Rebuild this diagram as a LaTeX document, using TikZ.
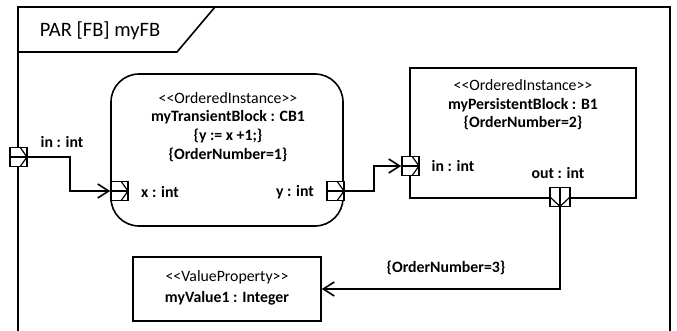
\documentclass[tikz,border=0pt]{standalone}
\usepackage{fontspec}
\setmainfont{Carlito}
\usetikzlibrary{arrows.meta,calc}
\tikzset{
  ln/.style={line width=1.6pt},
  portR/.style={draw, ln, fill=white, inner sep=0pt, minimum width=17pt, minimum height=19pt,
    path picture={
      \draw[line width=1.2pt] ($(path picture bounding box.north west)!0.6!(path picture bounding box.north east)$)
        -- (path picture bounding box.east)
        -- ($(path picture bounding box.south west)!0.6!(path picture bounding box.south east)$);
      \draw[line width=1.2pt] (path picture bounding box.west) -- (path picture bounding box.east);
    }},
  portD/.style={draw, ln, fill=white, inner sep=0pt, minimum width=20pt, minimum height=19pt,
    path picture={
      \draw[line width=1.2pt] ($(path picture bounding box.north west)!0.5!(path picture bounding box.south west)$)
        -- (path picture bounding box.south)
        -- ($(path picture bounding box.north east)!0.5!(path picture bounding box.south east)$);
      \draw[line width=1.2pt] (path picture bounding box.north) -- (path picture bounding box.south);
    }},
  flow/.style={ln, -{Straight Barb[length=11pt,width=14pt,line width=1.6pt]}},
  blk/.style={draw, ln, inner sep=0pt},
  txt/.style={font=\fontsize{15.8}{19}\selectfont, inner sep=0pt},
  btxt/.style={font=\fontsize{15.8}{19}\selectfont\bfseries, inner sep=0pt},
}
\newcommand{\stl}{<\kern0pt<}
\newcommand{\str}{>\kern0pt>}
\begin{document}
\begin{tikzpicture}[x=1pt,y=-1pt]
\useasboundingbox (0,0) rectangle (677,331);
\fill[white] (0,0) rectangle (677,331);
\begin{scope}
\clip (0,0) rectangle (677,331);
% frame
\draw[ln] (18,7) rectangle (670,345);
\draw[ln] (18,52) -- (177,52) -- (215,7);
\node[font=\fontsize{20.5}{24}\selectfont, inner sep=0pt] (title) at (100,31) {PAR [FB] myFB};

% transient block
\node[blk, rounded corners=28pt, minimum width=232pt, minimum height=152pt] (tb) at (227,150) {};
\node[txt] (tb1) at (228,98) {\stl OrderedInstance\str};
\node[btxt] (tb2) at (228,117) {myTransientBlock : CB1};
\node[btxt] (tb3) at (228,136) {\{y := x +1;\}};
\node[btxt] (tb4) at (228,155) {\{OrderNumber=1\}};

% persistent block
\node[blk, minimum width=226pt, minimum height=130pt] (pbk) at (523,133) {};
\node[txt] (pb1) at (523,85) {\stl OrderedInstance\str};
\node[btxt] (pb2) at (523,105) {myPersistentBlock : B1};
\node[btxt] (pb3) at (523,123) {\{OrderNumber=2\}};

% value box
\node[blk, minimum width=188pt, minimum height=64pt] (vb) at (227,289) {};
\node[txt] (vb1) at (227,277) {\stl ValueProperty\str};
\node[btxt] (vb2) at (227,298) {myValue1 : Integer};

% ports
\node[portR] (fp) at (18.5,157) {};
\node[portR] (tl) at (119.5,191) {};
\node[portR] (tr) at (335.5,191) {};
\node[portR] (pl) at (410.5,166) {};
\node[portD] (pd) at (560,197) {};

% port labels
\node[btxt] (lin) at (62,142) {in : int};
\node[btxt] (lx) at (160,192) {x : int};
\node[btxt] (ly) at (295,192) {y : int};
\node[btxt] (lpin) at (453,166) {in : int};
\node[btxt] (lout) at (558,173) {out : int};
\node[btxt] (lon3) at (446,268) {\{OrderNumber=3\}};

% connectors
\draw[flow] (fp.east) -- ++(42,0) |- (tl.west);
\draw[flow] (tr.east) -- ++(29,0) |- (pl.west);
\draw[flow] (pd.south) |- (vb.east);
\end{scope}
\end{tikzpicture}
\end{document}
